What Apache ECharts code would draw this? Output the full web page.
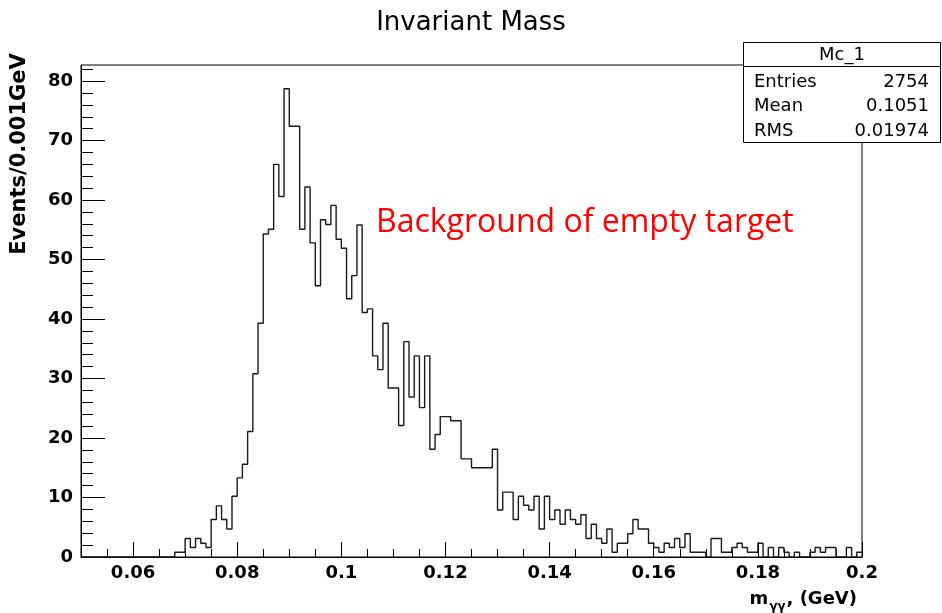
<!DOCTYPE html>
<html><head><meta charset="utf-8">
<script src="https://cdn.jsdelivr.net/npm/echarts@6/dist/echarts.min.js"></script>
<style>html,body{margin:0;padding:0;background:#fff}#c{width:942px;height:613px}</style>
</head><body><div id="c"></div>
<script>
// Histogram: 150 bins of 0.001 GeV from 0.05 to 0.2
const binLow = 0.05;
const binWidth = 0.001;
const counts = [
  0,0,0,0,0,0,0,0,0,0,0,0,0,0,0,0,0,0,
  0.8,0.8,3.1,1.6,3.1,2.3,1.6,6.3,8.6,6.3,
  4.7,10.2,13.3,15.6,21.1,30.8,39.3,54.3,55.1,66.0,
  60.6,78.7,72.4,72.4,55.1,62.2,52.8,45.6,56.7,55.9,
  59.1,53.4,51.9,43.4,47.3,55.8,41.1,41.7,33.8,31.5,
  39.3,28.4,28.4,22.1,36.2,26.9,33.8,25.1,33.8,18.1,
  20.6,23.6,23.6,22.9,22.9,16.5,16.5,15.0,15.0,15.0,
  15.0,18.1,7.9,10.9,10.9,6.3,10.2,8.7,7.9,10.2,
  4.7,10.2,6.3,7.9,5.5,7.9,6.3,5.5,7.1,3.1,
  5.5,3.1,2.3,4.7,0.8,2.3,2.3,3.9,6.3,4.7,
  4.7,2.3,1.6,0.8,2.3,1.6,3.1,1.6,3.9,0.8,
  0.8,0.8,0,3.1,3.1,0.8,0.8,1.6,2.3,1.6,
  0.8,0.8,2.3,0,1.6,0,1.6,0.8,0,0.8,
  0,0,0.8,1.6,0.8,1.6,1.6,0,0,1.6,
  0,0.8
];
const xMajorTicks = [0.06,0.08,0.10,0.12,0.14,0.16,0.18,0.20];
const xMajorLabels = ['0.06','0.08','0.1','0.12','0.14','0.16','0.18','0.2'];
const xMinorTicks = [0.055,0.06,0.065,0.07,0.075,0.08,0.085,0.09,0.095,0.1,0.105,0.11,0.115,0.12,0.125,0.13,0.135,0.14,0.145,0.15,0.155,0.16,0.165,0.17,0.175,0.18,0.185,0.19,0.195];
const yMajorTicks = [0,10,20,30,40,50,60,70,80];
const yMinorTicks = [2,4,6,8,12,14,16,18,22,24,26,28,32,34,36,38,42,44,46,48,52,54,56,58,62,64,66,68,72,74,76,78,82];
const titleText = 'Invariant Mass';
const yTitle = 'Events/0.001GeV';
const annotation = 'Background of empty target';
const statsName = 'Mc_1';
const statsLabels = ['Entries','Mean','RMS'];
const statsValues = ['2754','0.1051','0.01974'];

const histData = counts.map((c, i) => [+(binLow + i * binWidth).toFixed(3), c]);
histData.push([+(binLow + counts.length * binWidth).toFixed(3), counts[counts.length - 1]]);

const FONT = 'DejaVu Sans';
const chart = echarts.init(document.getElementById('c'), null, {renderer: 'canvas'});

const statsGraphics = [
  {type:'rect', shape:{x:743.5, y:42.5, width:197, height:100}, style:{fill:'#fff', stroke:'#000', lineWidth:1}, z:100},
  {type:'line', shape:{x1:743.5, y1:66.5, x2:940.5, y2:66.5}, style:{stroke:'#000', lineWidth:1}, z:101},
  {type:'text', x:842, y:55, z:102, style:{text:statsName, font:'18px "' + FONT + '"', fill:'#000', align:'center', verticalAlign:'middle'}}
];
statsLabels.forEach((l, i) => {
  statsGraphics.push({type:'text', x:754, y:82 + i * 24.8, z:102, style:{text:l, font:'18px "' + FONT + '"', fill:'#000', align:'left', verticalAlign:'middle'}});
  statsGraphics.push({type:'text', x:929, y:82 + i * 24.8, z:102, style:{text:statsValues[i], font:'18px "' + FONT + '"', fill:'#000', align:'right', verticalAlign:'middle'}});
});

const option = {
  animation: false,
  backgroundColor: '#fff',
  grid: {left:81, right:80, top:65, bottom:52, show:true, borderColor:'#000', borderWidth:1, backgroundColor:'transparent', containLabel:false},
  xAxis: [
    {type:'value', min:0.05, max:0.2, position:'bottom',
     axisLine:{show:true, lineStyle:{color:'#000', width:1}},
     axisTick:{show:true, inside:true, length:15, customValues:xMajorTicks, lineStyle:{color:'#000', width:1}},
     axisLabel:{show:true, customValues:xMajorTicks, margin:7, color:'#000', fontWeight:'bold', fontSize:18, fontFamily:FONT,
       formatter: v => { const k = xMajorTicks.findIndex(t => Math.abs(t - v) < 1e-6); return k >= 0 ? xMajorLabels[k] : ''; }},
     splitLine:{show:false},
     name:'{m|m}{s|γγ}{m|, (GeV)}', nameLocation:'end', nameGap:-5,
     nameTextStyle:{align:'right', verticalAlign:'top', padding:[28,0,0,0],
       rich:{m:{fontSize:18, fontWeight:'bold', fontFamily:FONT, color:'#000', lineHeight:22},
             s:{fontSize:12, fontWeight:'bold', fontFamily:FONT, color:'#000', verticalAlign:'bottom', lineHeight:28, padding:[0,1,0,1]}}}
    },
    {type:'value', min:0.05, max:0.2, position:'bottom', gridIndex:0,
     axisLine:{show:false},
     axisTick:{show:true, inside:true, length:8, customValues:xMinorTicks, lineStyle:{color:'#000', width:1}},
     axisLabel:{show:false}, splitLine:{show:false}}
  ],
  yAxis: [
    {type:'value', min:0, max:82.7, position:'left',
     axisLine:{show:true, lineStyle:{color:'#000', width:1}},
     axisTick:{show:true, inside:true, length:24, customValues:yMajorTicks, lineStyle:{color:'#000', width:1}},
     axisLabel:{show:true, customValues:yMajorTicks, margin:8, color:'#000', fontWeight:'bold', fontSize:18, fontFamily:FONT},
     splitLine:{show:false}},
    {type:'value', min:0, max:82.7, position:'left', gridIndex:0,
     axisLine:{show:false},
     axisTick:{show:true, inside:true, length:12, customValues:yMinorTicks, lineStyle:{color:'#000', width:1}},
     axisLabel:{show:false}, splitLine:{show:false}}
  ],
  series: [{
    type:'line', xAxisIndex:0, yAxisIndex:0, step:'end', symbol:'none', silent:true,
    data: histData, lineStyle:{color:'#1a1a1a', width:1.4}
  }],
  graphic: [
    {type:'text', x:471, y:23, style:{text:titleText, font:'26px "' + FONT + '"', fill:'#000', align:'center', verticalAlign:'middle'}},
    {type:'text', x:20, y:154, rotation:Math.PI/2, style:{text:yTitle, font:'bold 21px "' + FONT + '"', fill:'#000', align:'center', verticalAlign:'middle'}},
    {type:'text', x:376, y:223, style:{text:annotation, font:'32px "Open Sans"', fill:'#ff0000', align:'left', verticalAlign:'middle'}}
  ].concat(statsGraphics)
};
chart.setOption(option);
</script>
</body></html>
